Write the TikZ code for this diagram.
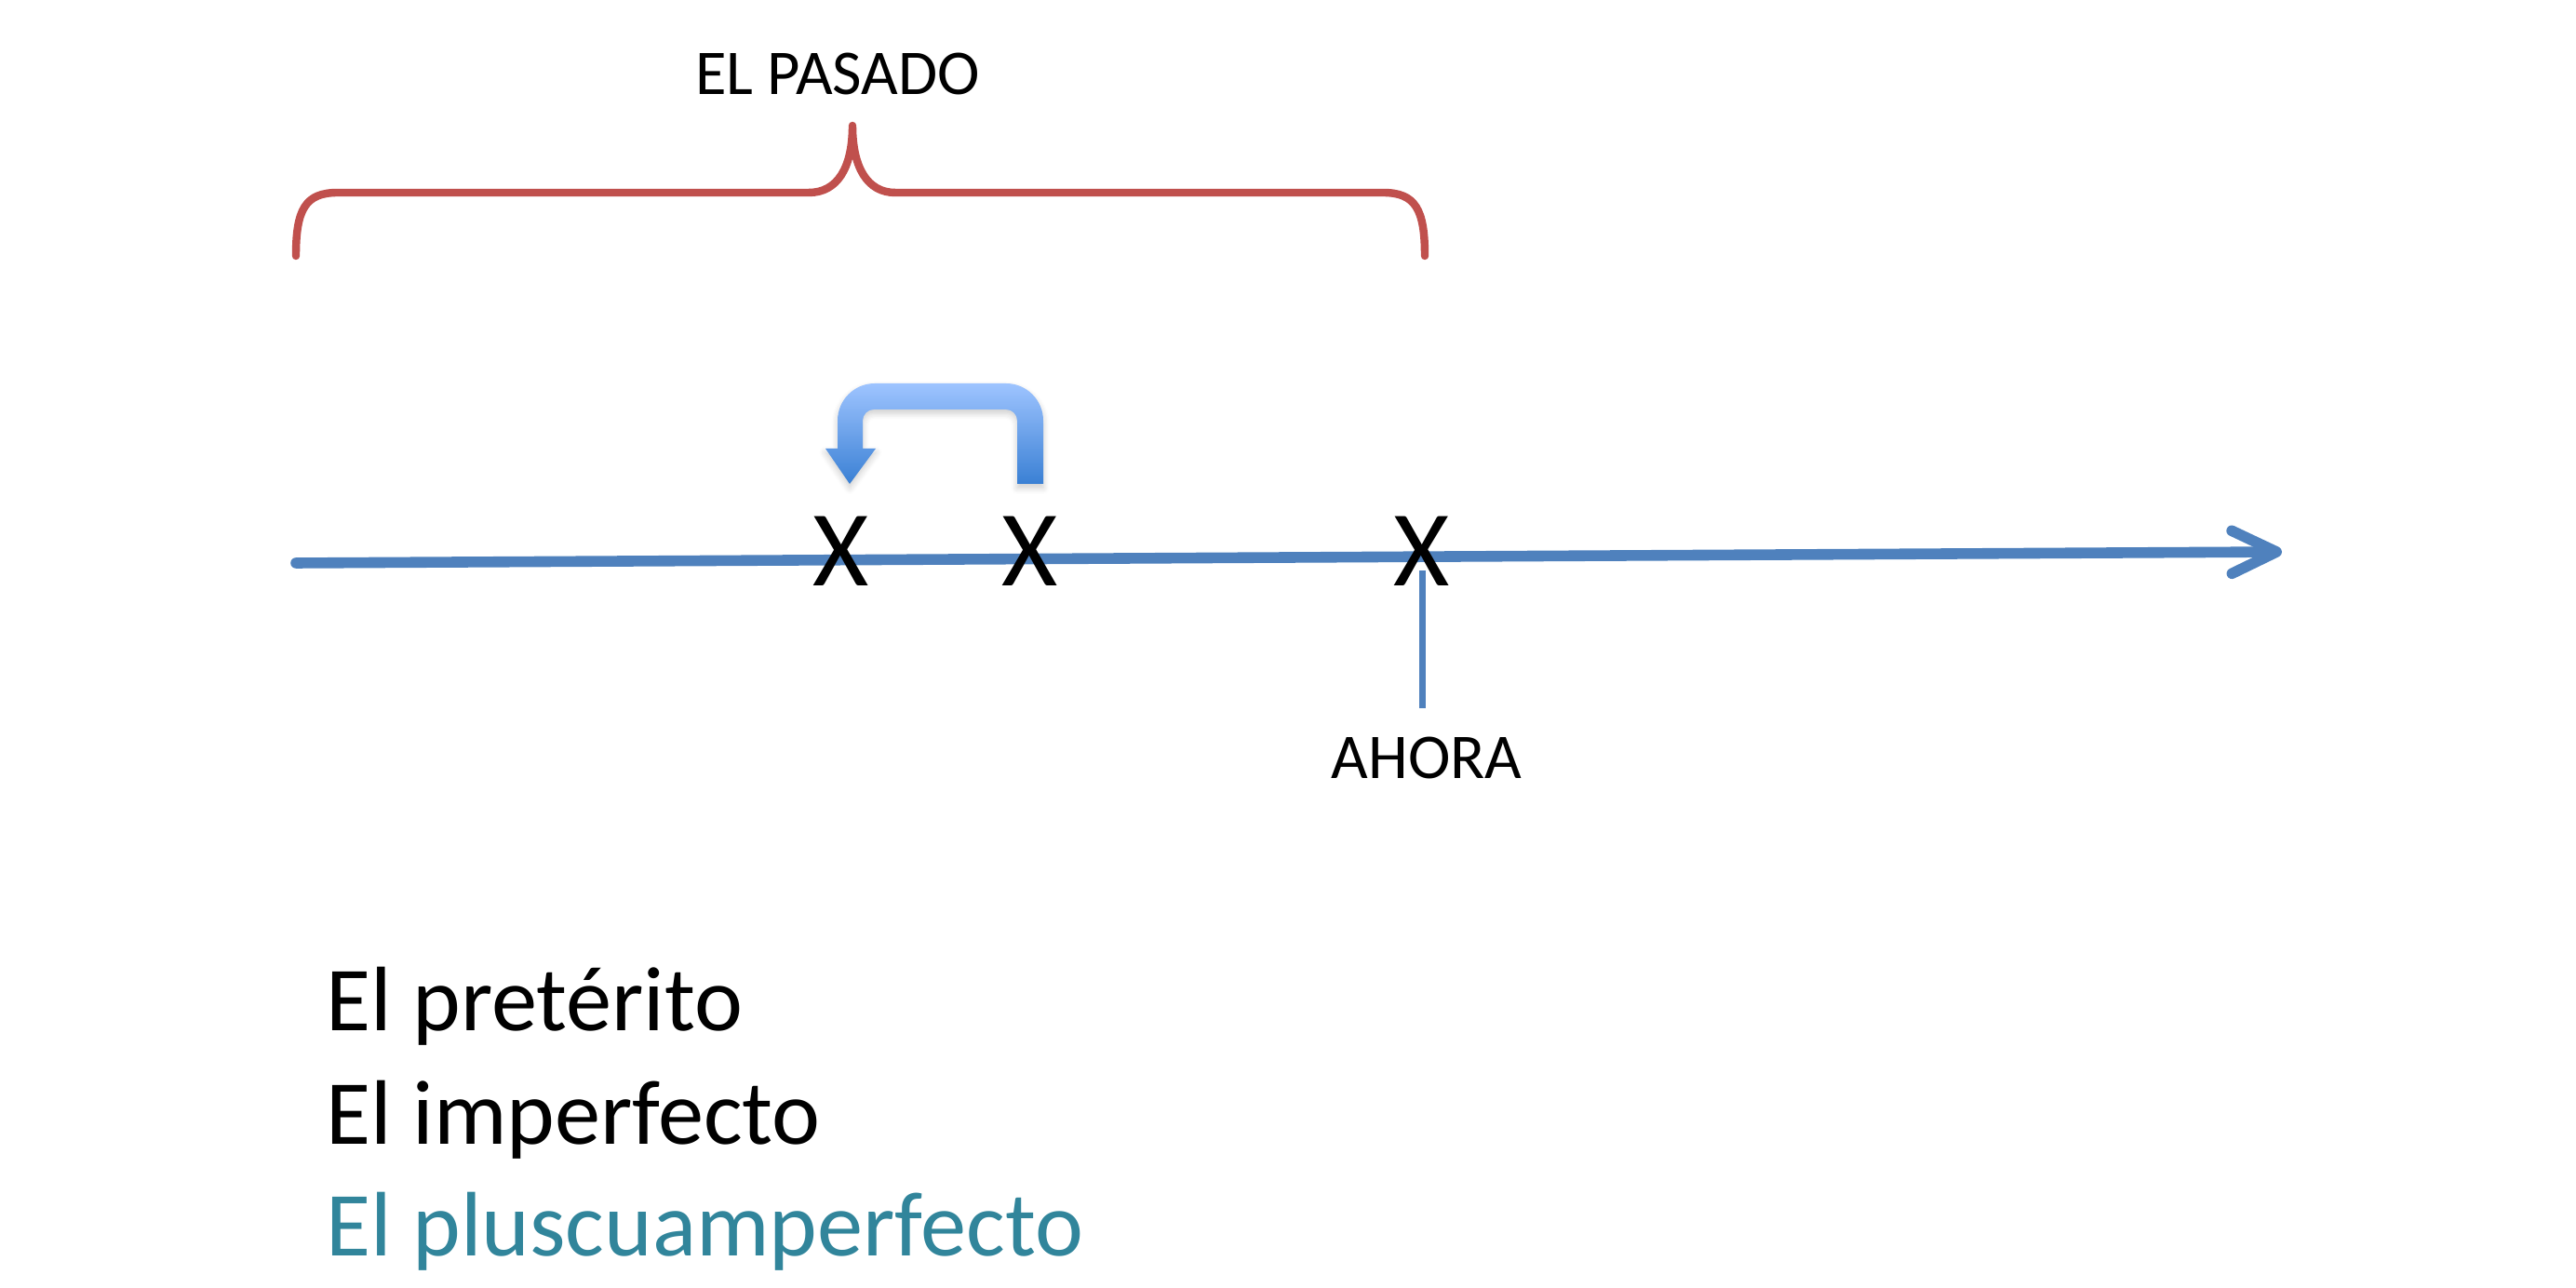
\documentclass[tikz,border=0pt]{standalone}
\usepackage{fontspec}
\setmainfont{Carlito}
\usetikzlibrary{arrows.meta,positioning,calc,shadows.blur}
\definecolor{lineBlue}{RGB}{79,129,189}
\definecolor{braceRed}{RGB}{192,80,77}
\definecolor{tenseTeal}{RGB}{49,133,155}
\definecolor{bendTop}{RGB}{158,196,255}
\definecolor{bendBot}{RGB}{58,128,212}
\tikzset{
  timeln/.style={-{Straight Barb[length=4.8mm,width=4.6mm,round]}, line width=3.3pt, lineBlue, line cap=round},
  braceln/.style={line width=2.4pt, braceRed, line cap=round, line join=round},
  tickln/.style={line width=2pt, lineBlue},
  xmark/.style={font=\fontsize{33}{38}\selectfont, inner sep=0pt},
  toplbl/.style={font=\fontsize{19.5}{23}\selectfont, inner sep=0pt, anchor=base},
  tense/.style={font=\fontsize{28}{34}\selectfont, inner sep=0pt, anchor=base west},
  bendfill/.style={top color=bendTop, bottom color=bendBot,
    blur shadow={shadow blur steps=6, shadow opacity=20, shadow xshift=0pt, shadow yshift=-1.2pt}},
}

\begin{document}
\begin{tikzpicture}
  \useasboundingbox (0,0) rectangle (27.68,-13.84);
  % brace over the past
  \coordinate (bl) at (3.18,-2.75);
  \coordinate (bc) at (9.16,-1.35);
  \coordinate (br) at (15.31,-2.75);
  \draw[braceln] (bl) .. controls (3.18,-2.25) and (3.28,-2.07) .. (3.63,-2.07)
    -- (8.69,-2.07) .. controls (9.00,-2.07) and (9.16,-1.80) .. (bc)
    .. controls (9.16,-1.80) and (9.32,-2.07) .. (9.62,-2.07)
    -- (14.86,-2.07) .. controls (15.21,-2.07) and (15.31,-2.25) .. (br);
  \node[toplbl] (pasado) at (9.00,-1.02) {EL PASADO};
  % time line
  \coordinate (tstart) at (3.18,-6.05);
  \coordinate (tend) at (24.52,-5.93);
  \draw[timeln] (tstart) -- (tend);
  \node[xmark] (xa) at (9.04,-5.92) {X};
  \node[xmark] (xb) at (11.07,-5.92) {X};
  \node[xmark] (xnow) at (15.28,-5.92) {X};
  % now
  \node[toplbl] (ahora) at (15.33,-8.37) {AHORA};
  \draw[tickln] ([yshift=-2.1mm]xnow.center) -- ([yshift=3.1mm]ahora.north -| xnow.center);
  % bent arrow back from the second X to the first
  \path[bendfill] (11.21,-5.20) -- (11.21,-4.52) arc[start angle=0, end angle=90, radius=0.4]
    -- (9.40,-4.12) arc[start angle=90, end angle=180, radius=0.4]
    -- (9.00,-4.82) -- (8.87,-4.82) -- (9.13,-5.20) -- (9.41,-4.82) -- (9.27,-4.82)
    -- (9.27,-4.52) arc[start angle=180, end angle=90, radius=0.12]
    -- (10.81,-4.40) arc[start angle=90, end angle=0, radius=0.12]
    -- (10.93,-5.20) -- cycle;
  % the three tenses
  \node[tense] (pret) at (3.50,-11.08) {El pretérito};
  \node[tense] (imp) at (3.50,-12.30) {El imperfecto};
  \node[tense, tenseTeal] (plus) at (3.50,-13.50) {El pluscuamperfecto};
\end{tikzpicture}
\end{document}
